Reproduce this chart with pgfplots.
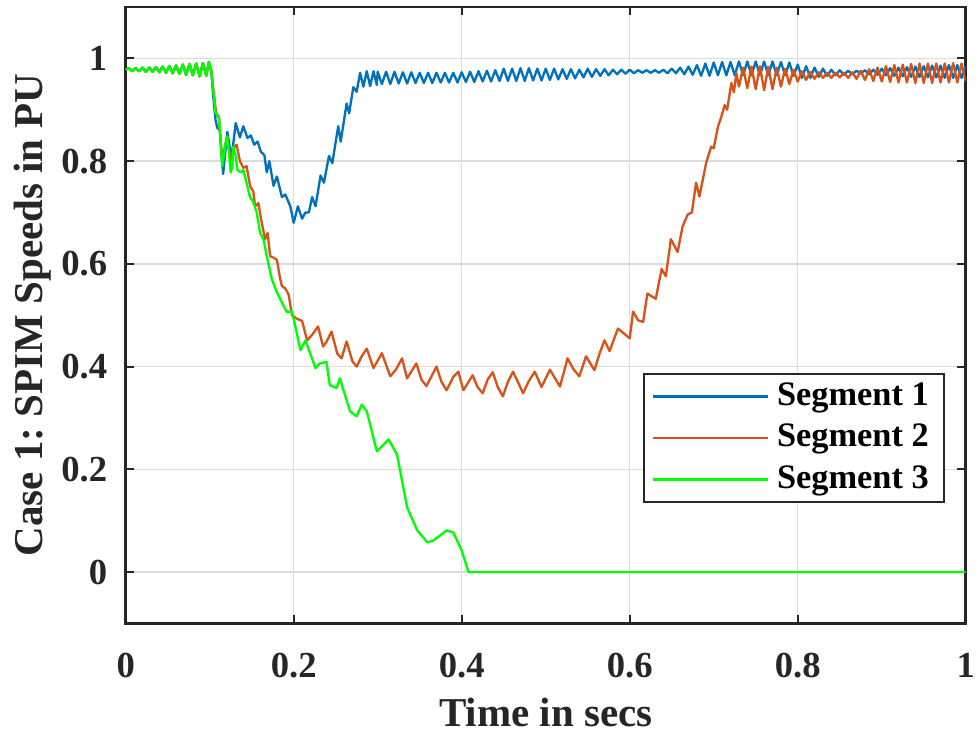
\documentclass[border=0pt]{standalone}
\usepackage{fontspec}
\setmainfont{Liberation Serif}
\usepackage{pgfplots}
\pgfplotsset{compat=1.18}
\definecolor{mBlue}{HTML}{0072BD}
\definecolor{mOrange}{HTML}{D95319}
\definecolor{mGreen}{HTML}{00FF00}
\definecolor{mAxis}{HTML}{262626}
\definecolor{mGrid}{HTML}{DCDCDC}

\begin{document}
\frenchspacing
\begin{tikzpicture}
\begin{axis}[
  scale only axis, width=252pt, height=184.9pt,
  xmin=0, xmax=1, ymin=-0.1, ymax=1.1,
  xtick={0,0.2,0.4,0.6,0.8,1}, ytick={0,0.2,0.4,0.6,0.8,1},
  grid=major, grid style={mGrid, line width=0.45pt},
  axis line style={mAxis, line width=0.8pt},
  tick style={mAxis, line width=0.6pt}, major tick length=2.5pt, tick align=inside,
  /pgf/number format/assume math mode=true,
  ticklabel style={font=\bfseries\fontsize{11}{13}\selectfont, text=mAxis},
  xticklabel shift=5.5pt, yticklabel shift=2pt,
  label style={font=\bfseries\fontsize{12.3}{14}\selectfont, text=mAxis},
  xlabel={Time in secs}, ylabel={Case 1: SPIM Speeds in PU},
  x label style={at={(axis description cs:0.5,-0.168)}, anchor=base},
  y label style={at={(axis description cs:-0.0996,0.5)}, anchor=base},
  legend style={at={(rel axis cs:0.975,0.4066)}, anchor=north east,
    draw=mAxis, line width=0.6pt, fill=white,
    font=\bfseries\fontsize{10.3}{12}\selectfont, text=black,
    inner xsep=2.2pt, inner ysep=0.5pt, row sep=0pt,
    nodes={inner xsep=2.3pt, inner ysep=2.1pt}},
  legend cell align=left,
  legend image code/.code={\draw[#1, line width=0.8pt] (0pt,0pt) -- (34.5pt,0pt);},
  every axis plot/.append style={line width=0.7pt, line join=round},
]
% Segment 1
\addplot[mBlue] coordinates {
(0.000,0.978) (0.004,0.981) (0.008,0.975) (0.012,0.981) (0.016,0.975) (0.020,0.982) (0.024,0.974) (0.028,0.982)
(0.032,0.974) (0.036,0.983) (0.040,0.973) (0.044,0.984) (0.048,0.972) (0.052,0.985) (0.056,0.971) (0.060,0.986)
(0.064,0.970) (0.068,0.988) (0.072,0.968) (0.076,0.989) (0.080,0.967) (0.084,0.990) (0.088,0.965) (0.092,0.991)
(0.096,0.966) (0.099,0.993) (0.102,0.975)
(0.104,0.930) (0.107,0.880) (0.109,0.865) (0.112,0.860) (0.116,0.775) (0.121,0.857) (0.126,0.805) (0.131,0.874)
(0.136,0.846) (0.140,0.868) (0.145,0.845) (0.149,0.850) (0.153,0.832) (0.157,0.838) (0.161,0.818) (0.165,0.812)
(0.168,0.778) (0.171,0.800) (0.176,0.752) (0.180,0.770) (0.186,0.730) (0.190,0.735) (0.196,0.712) (0.200,0.680)
(0.205,0.712) (0.210,0.688) (0.214,0.700) (0.218,0.700) (0.222,0.730) (0.226,0.712) (0.232,0.772) (0.236,0.758)
(0.242,0.810) (0.246,0.796) (0.253,0.868) (0.256,0.838) (0.263,0.912) (0.266,0.893) (0.271,0.944) (0.275,0.935)
(0.279,0.972) (0.283,0.945) (0.287,0.975) (0.291,0.946) (0.295,0.975) (0.299,0.948)
(0.300,0.974) (0.305,0.950) (0.310,0.974) (0.315,0.950) (0.320,0.974) (0.325,0.951) (0.330,0.973) (0.335,0.951)
(0.340,0.973) (0.345,0.952) (0.350,0.972) (0.355,0.952) (0.360,0.972) (0.365,0.952) (0.370,0.972) (0.375,0.953)
(0.380,0.972) (0.385,0.953) (0.390,0.972) (0.395,0.953) (0.400,0.973) (0.405,0.954) (0.410,0.974) (0.415,0.954)
(0.420,0.975) (0.425,0.955) (0.430,0.976) (0.435,0.955) (0.440,0.977) (0.445,0.956) (0.450,0.980) (0.455,0.956)
(0.460,0.980) (0.465,0.956) (0.470,0.981) (0.475,0.956) (0.480,0.981) (0.485,0.957) (0.490,0.980) (0.495,0.957)
(0.500,0.980) (0.505,0.958) (0.510,0.980) (0.515,0.959) (0.520,0.979) (0.525,0.960) (0.530,0.979) (0.535,0.961)
(0.540,0.978) (0.545,0.963) (0.550,0.980) (0.555,0.964) (0.560,0.979) (0.565,0.966) (0.570,0.979) (0.575,0.967)
(0.580,0.978) (0.585,0.969) (0.590,0.978) (0.595,0.970) (0.600,0.978) (0.605,0.971) (0.610,0.977) (0.615,0.972)
(0.620,0.977) (0.625,0.972) (0.630,0.977) (0.635,0.972) (0.640,0.978) (0.645,0.971) (0.650,0.980) (0.655,0.971)
(0.660,0.982) (0.665,0.969) (0.670,0.984) (0.675,0.968) (0.680,0.987) (0.685,0.966) (0.690,0.990) (0.695,0.966)
(0.700,0.992) (0.705,0.967) (0.710,0.993) (0.715,0.967) (0.720,0.993) (0.725,0.967) (0.730,0.994) (0.735,0.967)
(0.740,0.994) (0.745,0.967) (0.750,0.994) (0.755,0.967) (0.760,0.994) (0.765,0.967) (0.770,0.994) (0.775,0.967)
(0.780,0.993) (0.785,0.967) (0.790,0.992) (0.795,0.966) (0.800,0.988) (0.805,0.962) (0.810,0.985) (0.815,0.962)
(0.820,0.982) (0.825,0.964) (0.830,0.980) (0.835,0.966) (0.840,0.978) (0.845,0.967) (0.850,0.977) (0.855,0.968)
(0.860,0.976) (0.865,0.969) (0.870,0.976) (0.875,0.970) (0.880,0.977) (0.885,0.969) (0.890,0.978) (0.895,0.968)
(0.900,0.980) (0.905,0.967) (0.910,0.981) (0.915,0.966) (0.920,0.982) (0.925,0.965) (0.930,0.983) (0.935,0.964)
(0.940,0.984) (0.945,0.964) (0.950,0.985) (0.955,0.963) (0.960,0.986) (0.965,0.963) (0.970,0.986) (0.975,0.962)
(0.980,0.987) (0.985,0.962) (0.990,0.987) (0.995,0.962) (1.000,0.985)
};
\addlegendentry{Segment 1}
% Segment 2
\addplot[mOrange] coordinates {
(0.000,0.978) (0.004,0.981) (0.008,0.975) (0.012,0.981) (0.016,0.975) (0.020,0.982) (0.024,0.974) (0.028,0.982)
(0.032,0.974) (0.036,0.983) (0.040,0.973) (0.044,0.984) (0.048,0.972) (0.052,0.985) (0.056,0.971) (0.060,0.986)
(0.064,0.970) (0.068,0.988) (0.072,0.968) (0.076,0.989) (0.080,0.967) (0.084,0.990) (0.088,0.965) (0.092,0.991)
(0.096,0.966) (0.099,0.993) (0.102,0.975)
(0.105,0.930) (0.108,0.890) (0.111,0.885) (0.115,0.800) (0.119,0.835) (0.121,0.848) (0.125,0.800) (0.128,0.825)
(0.132,0.832) (0.136,0.800) (0.140,0.787) (0.144,0.790) (0.148,0.752) (0.152,0.740) (0.154,0.712) (0.158,0.718)
(0.162,0.680) (0.166,0.648) (0.169,0.660) (0.172,0.615) (0.176,0.612) (0.180,0.608) (0.184,0.570) (0.186,0.557)
(0.190,0.552) (0.194,0.540) (0.198,0.500) (0.204,0.493) (0.210,0.489) (0.216,0.451) (0.222,0.462) (0.229,0.478)
(0.235,0.439) (0.239,0.448) (0.245,0.468) (0.252,0.425) (0.257,0.416) (0.263,0.449) (0.270,0.410) (0.275,0.400)
(0.281,0.420) (0.287,0.435) (0.295,0.397) (0.305,0.426) (0.315,0.381) (0.322,0.395) (0.329,0.416) (0.335,0.377)
(0.346,0.406) (0.352,0.375) (0.358,0.362) (0.370,0.400) (0.376,0.370) (0.382,0.354) (0.390,0.380) (0.396,0.390)
(0.402,0.354) (0.413,0.383) (0.419,0.360) (0.425,0.348) (0.431,0.375) (0.437,0.389) (0.443,0.360) (0.449,0.342)
(0.455,0.370) (0.461,0.390) (0.467,0.370) (0.473,0.348) (0.480,0.372) (0.487,0.390) (0.495,0.360) (0.505,0.394)
(0.517,0.361) (0.526,0.416) (0.533,0.395) (0.540,0.381) (0.548,0.420) (0.558,0.393) (0.564,0.425) (0.570,0.451)
(0.576,0.430) (0.586,0.474) (0.600,0.455) (0.604,0.507) (0.610,0.490) (0.616,0.487) (0.621,0.542) (0.631,0.532)
(0.638,0.590) (0.643,0.576) (0.649,0.648) (0.657,0.623) (0.663,0.673) (0.669,0.696) (0.674,0.700) (0.679,0.758)
(0.683,0.731) (0.691,0.797) (0.697,0.828) (0.700,0.825) (0.705,0.867) (0.709,0.886) (0.713,0.909) (0.716,0.900)
(0.721,0.952) (0.724,0.934) (0.727,0.971)
(0.730,0.945) (0.735,0.982) (0.740,0.942) (0.745,0.984) (0.750,0.940) (0.755,0.985) (0.760,0.938) (0.765,0.984)
(0.770,0.940) (0.775,0.982) (0.780,0.945) (0.785,0.980) (0.790,0.950) (0.795,0.978) (0.800,0.955) (0.805,0.975)
(0.810,0.958) (0.815,0.974) (0.820,0.960) (0.825,0.973) (0.830,0.962) (0.835,0.972) (0.840,0.962) (0.845,0.972)
(0.850,0.963) (0.855,0.972) (0.860,0.962) (0.865,0.973) (0.870,0.960) (0.875,0.976) (0.880,0.958) (0.885,0.979)
(0.890,0.956) (0.895,0.982) (0.900,0.955) (0.905,0.985) (0.910,0.954) (0.915,0.987) (0.920,0.953) (0.925,0.988)
(0.930,0.953) (0.935,0.989) (0.940,0.952) (0.945,0.990) (0.950,0.952) (0.955,0.990) (0.960,0.952) (0.965,0.990)
(0.970,0.953) (0.975,0.990) (0.980,0.953) (0.985,0.991) (0.990,0.953) (0.995,0.990) (1.000,0.955)
};
\addlegendentry{Segment 2}
% Segment 3
\addplot[mGreen] coordinates {
(0.000,0.978) (0.004,0.981) (0.008,0.975) (0.012,0.981) (0.016,0.975) (0.020,0.982) (0.024,0.974) (0.028,0.982)
(0.032,0.974) (0.036,0.983) (0.040,0.973) (0.044,0.984) (0.048,0.972) (0.052,0.985) (0.056,0.971) (0.060,0.986)
(0.064,0.970) (0.068,0.988) (0.072,0.968) (0.076,0.989) (0.080,0.967) (0.084,0.990) (0.088,0.965) (0.092,0.991)
(0.096,0.966) (0.099,0.993) (0.102,0.975)
(0.107,0.894) (0.111,0.887) (0.115,0.790) (0.119,0.835) (0.121,0.848) (0.123,0.815) (0.125,0.778) (0.127,0.790)
(0.128,0.828) (0.131,0.810) (0.133,0.783) (0.137,0.778) (0.140,0.783) (0.145,0.750) (0.148,0.730) (0.152,0.720)
(0.156,0.700) (0.160,0.660) (0.164,0.648) (0.168,0.615) (0.174,0.570) (0.180,0.545) (0.188,0.518) (0.192,0.506)
(0.198,0.508) (0.208,0.432) (0.214,0.451) (0.226,0.397) (0.231,0.406) (0.239,0.409) (0.243,0.364) (0.251,0.358)
(0.255,0.377) (0.267,0.313) (0.275,0.303) (0.281,0.326) (0.287,0.313) (0.299,0.235) (0.313,0.258) (0.323,0.229)
(0.335,0.126) (0.347,0.081) (0.359,0.058) (0.366,0.061) (0.382,0.081) (0.390,0.077) (0.400,0.042) (0.408,0.000)
(1.000,0.000)
};
\addlegendentry{Segment 3}
\coordinate (bbSW) at (rel axis cs:-0.1496,-0.1829);
\coordinate (bbNE) at (rel axis cs:1.0146,1.0114);
\end{axis}
\pgfresetboundingbox
\useasboundingbox (bbSW) rectangle (bbNE);
\end{tikzpicture}
\end{document}
